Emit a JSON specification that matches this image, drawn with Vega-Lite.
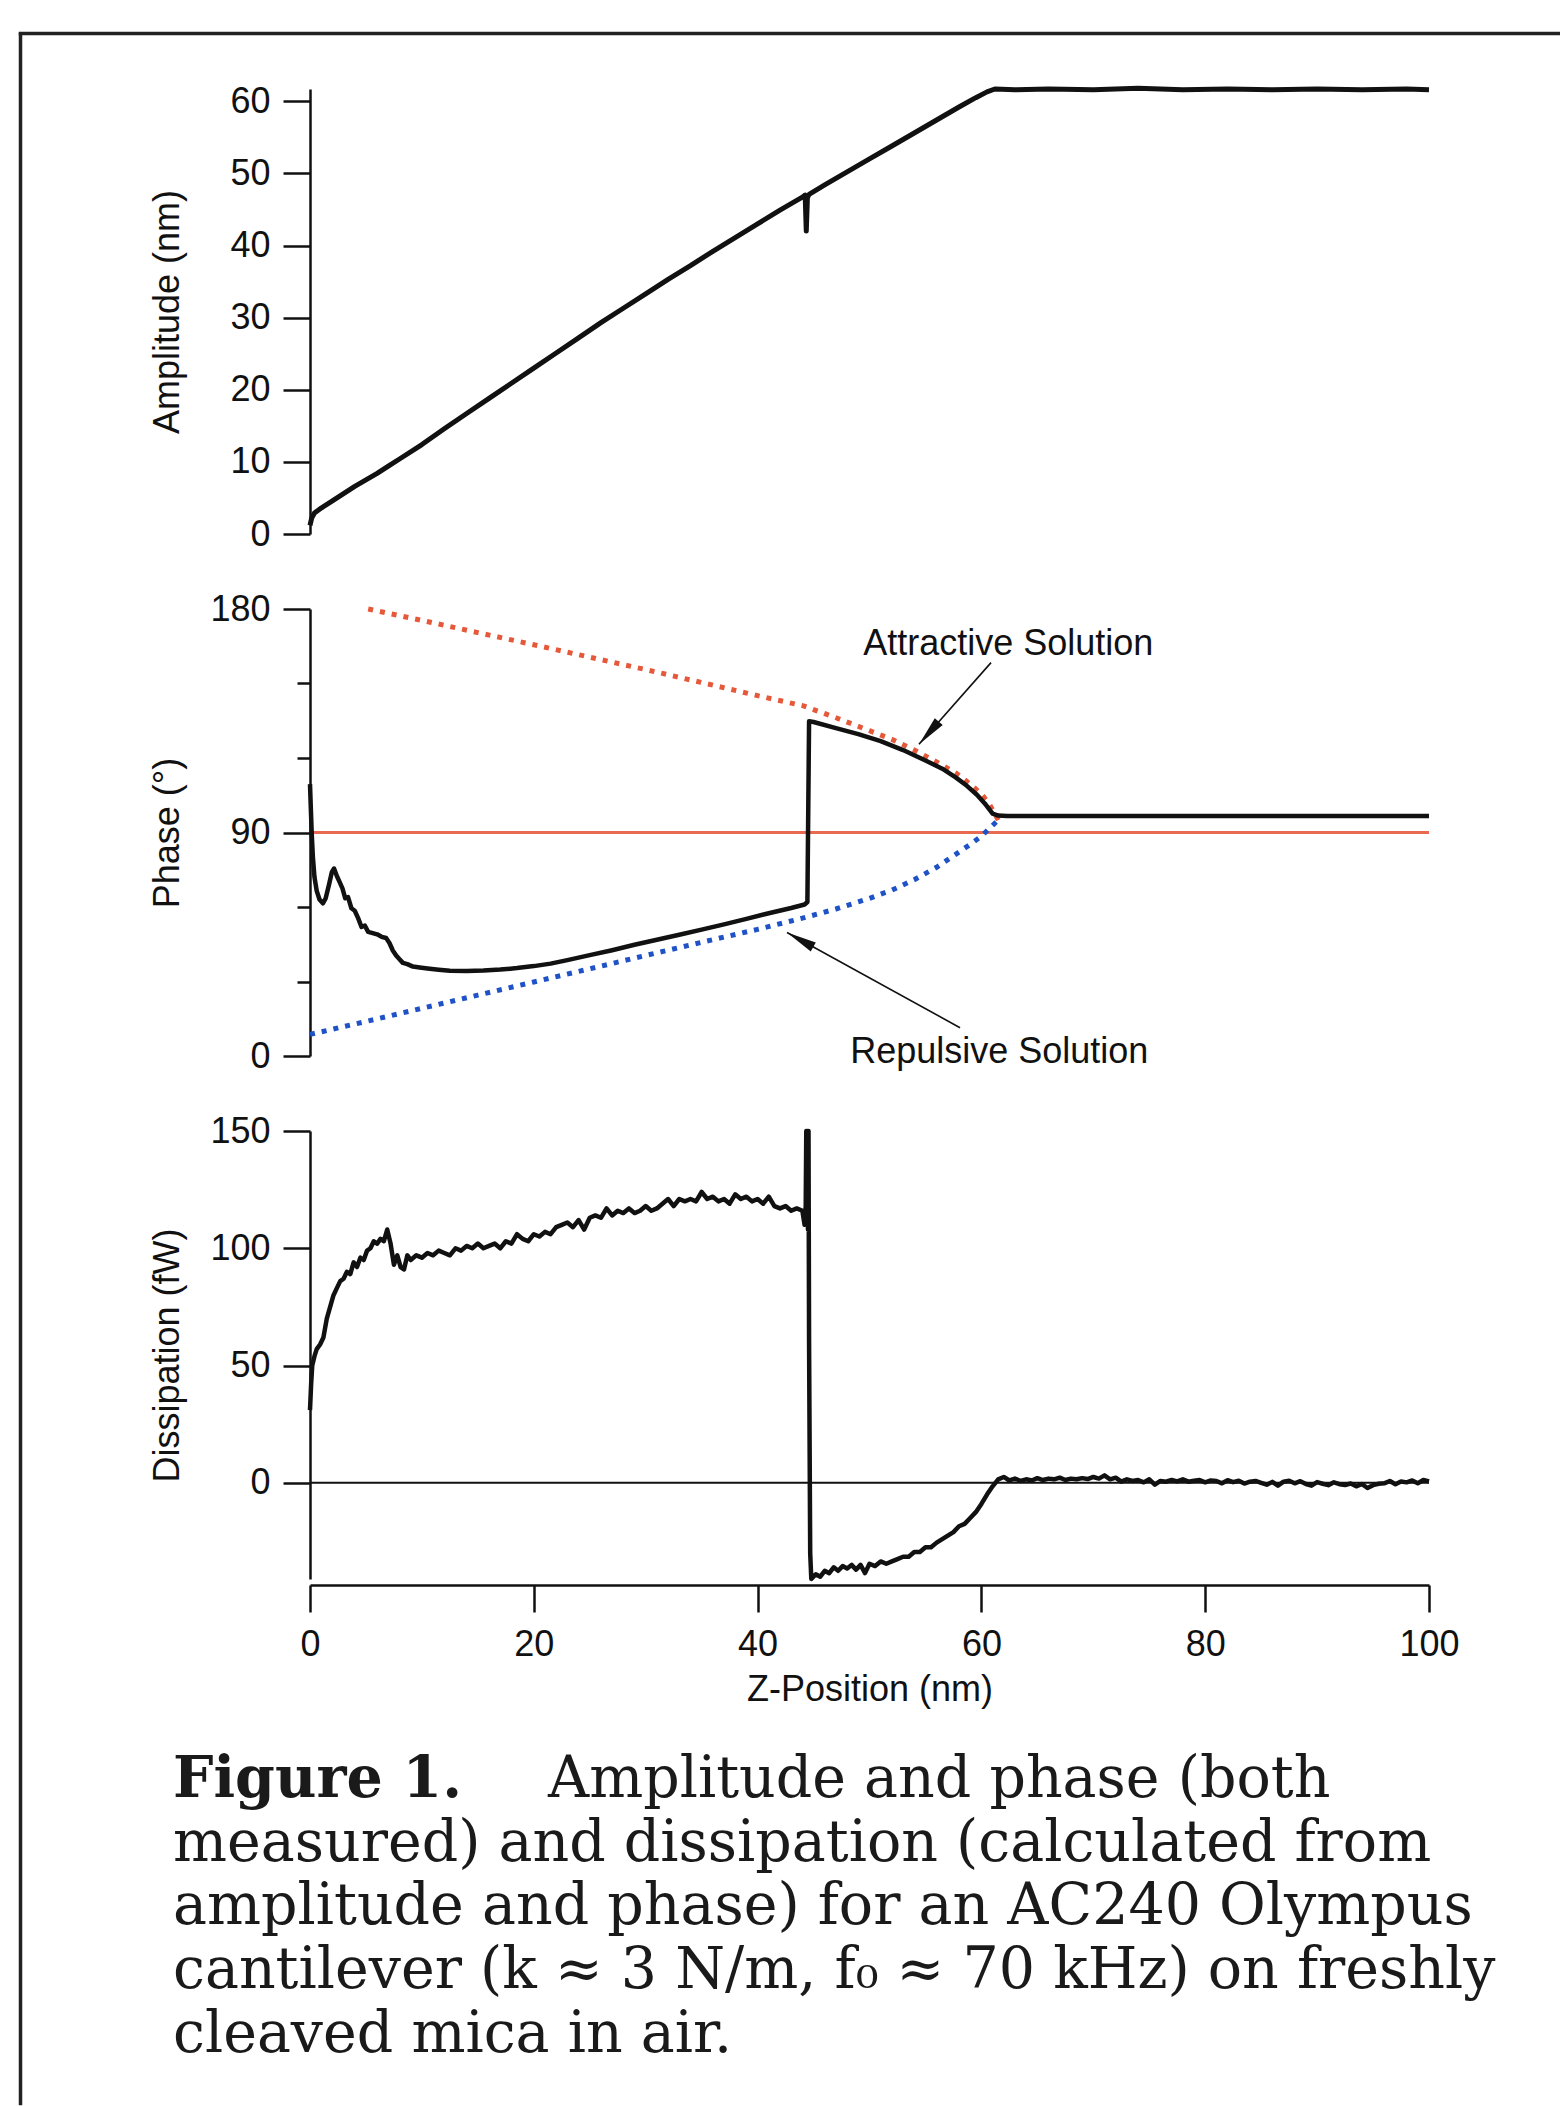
{
"$schema": "https://vega.github.io/schema/vega-lite/v6.json",
"background": "white",
"padding": {"left": 16, "top": 29, "right": 0, "bottom": 0},
"config": {
  "view": {"stroke": null},
  "font": "Liberation Sans",
  "axis": {"domainColor": "#111", "tickColor": "#111", "labelColor": "#111", "titleColor": "#111", "domainWidth": 2.5, "tickWidth": 2.5, "tickSize": 27, "labelFontSize": 36, "titleFontSize": 36, "titleFontWeight": "normal", "labelPadding": 13, "labelFlush": false, "grid": false, "labelFont": "Liberation Sans", "titleFont": "Liberation Sans"}
},
"datasets": {
  "amp": [
    {"z":0,"A":1.2},{"z":0.15,"A":2.2},{"z":0.4,"A":2.9},{"z":1,"A":3.6},{"z":2,"A":4.6},{"z":3,"A":5.6},{"z":4,"A":6.6},{"z":5,"A":7.5},{"z":6,"A":8.4},{"z":7,"A":9.4},{"z":8,"A":10.4},{"z":10,"A":12.4},{"z":12,"A":14.6},{"z":14,"A":16.7},{"z":16,"A":18.8},{"z":18,"A":20.9},{"z":20,"A":23.0},{"z":22,"A":25.1},{"z":24,"A":27.2},{"z":26,"A":29.3},{"z":28,"A":31.3},{"z":30,"A":33.3},{"z":32,"A":35.3},{"z":34,"A":37.2},{"z":36,"A":39.2},{"z":38,"A":41.1},{"z":40,"A":43.0},{"z":42,"A":44.9},{"z":44,"A":46.7},{"z":44.25,"A":47.0},{"z":44.35,"A":42.0},{"z":44.45,"A":46.6},{"z":44.6,"A":47.1},{"z":46,"A":48.4},{"z":48,"A":50.2},{"z":50,"A":52.0},{"z":52,"A":53.8},{"z":54,"A":55.6},{"z":56,"A":57.4},{"z":58,"A":59.2},{"z":59.5,"A":60.5},{"z":60.5,"A":61.3},{"z":61.2,"A":61.7},{"z":63,"A":61.6},{"z":66,"A":61.7},{"z":70,"A":61.6},{"z":74,"A":61.8},{"z":78,"A":61.6},{"z":82,"A":61.7},{"z":86,"A":61.6},{"z":90,"A":61.7},{"z":94,"A":61.6},{"z":98,"A":61.7},{"z":100,"A":61.6}
  ],
  "phase": [
    {"z":0,"P":109.5},{"z":0.08,"P":99},{"z":0.16,"P":89},{"z":0.26,"P":80},{"z":0.4,"P":72},{"z":0.6,"P":66.5},{"z":0.85,"P":63},{"z":1.15,"P":61.5},{"z":1.4,"P":63.5},{"z":1.7,"P":69},{"z":1.95,"P":74},{"z":2.15,"P":75.5},{"z":2.4,"P":72.5},{"z":2.65,"P":70},{"z":2.9,"P":67.5},{"z":3.15,"P":63.5},{"z":3.4,"P":64},{"z":3.7,"P":59.5},{"z":4.0,"P":58.5},{"z":4.3,"P":55.5},{"z":4.6,"P":52},{"z":4.9,"P":52.5},{"z":5.2,"P":50},{"z":5.6,"P":49.5},{"z":6.0,"P":49},{"z":6.4,"P":48},{"z":6.8,"P":47.5},{"z":7.1,"P":45.5},{"z":7.4,"P":42.5},{"z":7.7,"P":40.5},{"z":8.0,"P":39},{"z":8.3,"P":37.5},{"z":8.7,"P":37},{"z":9.2,"P":36},{"z":9.8,"P":35.6},{"z":10.5,"P":35.2},{"z":11.5,"P":34.7},{"z":12.5,"P":34.3},{"z":14,"P":34.2},{"z":15.5,"P":34.4},{"z":17,"P":34.8},{"z":18.5,"P":35.4},{"z":20,"P":36.2},{"z":21.5,"P":37.2},{"z":23,"P":38.6},{"z":25,"P":40.6},{"z":27,"P":42.6},{"z":29,"P":44.8},{"z":31,"P":46.8},{"z":33,"P":48.8},{"z":35,"P":50.9},{"z":37,"P":53},{"z":39,"P":55.2},{"z":41,"P":57.5},{"z":43,"P":59.6},{"z":44.2,"P":61},{"z":44.45,"P":62},{"z":44.6,"P":134.8},{"z":45,"P":134.5},{"z":47,"P":132},{"z":49,"P":129.6},{"z":51,"P":126.8},{"z":53,"P":123.2},{"z":55,"P":119},{"z":56.5,"P":115.7},{"z":57.7,"P":112.2},{"z":58.7,"P":108.8},{"z":59.6,"P":105.2},{"z":60.3,"P":101.7},{"z":61,"P":97.6},{"z":61.5,"P":96.8},{"z":62.3,"P":96.6},{"z":70,"P":96.6},{"z":80,"P":96.6},{"z":90,"P":96.6},{"z":100,"P":96.6}
  ],
  "attr": [
    {"z":5.2,"P":180},{"z":10,"P":175.4},{"z":15,"P":170.5},{"z":20,"P":165.6},{"z":25,"P":160.6},{"z":30,"P":155.6},{"z":35,"P":150.4},{"z":40,"P":145.1},{"z":44.1,"P":141},{"z":47,"P":136.2},{"z":50,"P":131},{"z":52,"P":127.5},{"z":54,"P":123.2},{"z":56,"P":118.4},{"z":57.7,"P":114},{"z":59,"P":109.5},{"z":60,"P":105.5},{"z":60.7,"P":101.5},{"z":61.2,"P":97.5},{"z":61.5,"P":95}
  ],
  "rep": [
    {"z":0,"P":8.7},{"z":5,"P":13.9},{"z":10,"P":19.2},{"z":15,"P":24.5},{"z":20,"P":29.8},{"z":25,"P":35.1},{"z":30,"P":40.5},{"z":35,"P":45.8},{"z":40,"P":51},{"z":44,"P":55.5},{"z":47,"P":59.2},{"z":50,"P":63.5},{"z":52,"P":66.8},{"z":54,"P":71},{"z":56,"P":76},{"z":57.7,"P":81.2},{"z":59,"P":85.2},{"z":60,"P":88.5},{"z":60.8,"P":92},{"z":61.5,"P":95}
  ],
  "ann": [
    {"z":62.4,"P":166,"label":"Attractive Solution"},
    {"z":61.6,"P":1.8,"label":"Repulsive Solution"}
  ],
  "arrows": [
    {"z0":60.86,"P0":158.4,"z1":54.42,"P1":125.5},
    {"z0":58.09,"P0":11.4,"z1":42.63,"P1":49.74}
  ],
  "headA": [{"z":55.31,"P":130.1}],
  "headR": [{"z":43.8,"P":46.8}],
  "diss": [
    {"z":0,"D":31},{"z":0.1,"D":42},{"z":0.2,"D":50},{"z":0.4,"D":54},{"z":0.6,"D":57},{"z":0.9,"D":59},{"z":1.2,"D":62},{"z":1.5,"D":70},{"z":1.8,"D":75},{"z":2.1,"D":80},{"z":2.4,"D":83},{"z":2.7,"D":86},{"z":3.0,"D":87},{"z":3.3,"D":90},{"z":3.6,"D":89},{"z":3.9,"D":94},{"z":4.2,"D":92},{"z":4.5,"D":96},{"z":4.8,"D":95},{"z":5.1,"D":99},{"z":5.4,"D":100},{"z":5.7,"D":103},{"z":6.0,"D":102},{"z":6.3,"D":104},{"z":6.6,"D":103},{"z":6.9,"D":108},{"z":7.2,"D":102},{"z":7.5,"D":93},{"z":7.8,"D":97},{"z":8.1,"D":92},{"z":8.4,"D":91},{"z":8.7,"D":97},{"z":9.0,"D":95},{"z":9.5,"D":97},{"z":10,"D":96},{"z":10.5,"D":98},{"z":11,"D":97},{"z":11.5,"D":99},{"z":12,"D":98},{"z":12.5,"D":97},{"z":13,"D":100},{"z":13.5,"D":99},{"z":14,"D":101},{"z":14.5,"D":100},{"z":15,"D":102},{"z":15.5,"D":100},{"z":16,"D":101},{"z":16.5,"D":102},{"z":17,"D":100},{"z":17.5,"D":103},{"z":18,"D":102},{"z":18.5,"D":106},{"z":19,"D":104},{"z":19.5,"D":103},{"z":20,"D":106},{"z":20.5,"D":105},{"z":21,"D":107},{"z":21.5,"D":106},{"z":22,"D":109},{"z":22.5,"D":110},{"z":23,"D":111},{"z":23.5,"D":109},{"z":24,"D":112},{"z":24.5,"D":108},{"z":25,"D":113},{"z":25.5,"D":114},{"z":26,"D":113},{"z":26.5,"D":117},{"z":27,"D":114},{"z":27.5,"D":116},{"z":28,"D":115},{"z":28.5,"D":117},{"z":29,"D":115},{"z":29.5,"D":116},{"z":30,"D":118},{"z":30.5,"D":116},{"z":31,"D":117},{"z":31.5,"D":119},{"z":32,"D":121},{"z":32.5,"D":118},{"z":33,"D":121},{"z":33.5,"D":120},{"z":34,"D":121},{"z":34.5,"D":120},{"z":35,"D":124},{"z":35.5,"D":121},{"z":36,"D":122},{"z":36.5,"D":120},{"z":37,"D":121},{"z":37.5,"D":119},{"z":38,"D":123},{"z":38.5,"D":121},{"z":39,"D":122},{"z":39.5,"D":120},{"z":40,"D":121},{"z":40.5,"D":119},{"z":41,"D":122},{"z":41.5,"D":118},{"z":42,"D":117},{"z":42.5,"D":118},{"z":43,"D":116},{"z":43.5,"D":117},{"z":44,"D":116},{"z":44.2,"D":110},{"z":44.3,"D":118},{"z":44.35,"D":150},{"z":44.4,"D":112},{"z":44.45,"D":150},{"z":44.5,"D":108},{"z":44.55,"D":150},{"z":44.6,"D":60},{"z":44.7,"D":-30},{"z":44.8,"D":-41},
    {"z":45.2,"D":-39},{"z":45.6,"D":-40},{"z":46,"D":-37.5},{"z":46.4,"D":-38.5},{"z":46.8,"D":-36},{"z":47.2,"D":-37.5},{"z":47.6,"D":-35.5},{"z":48,"D":-36.5},{"z":48.4,"D":-35},{"z":48.8,"D":-37},{"z":49.2,"D":-35},{"z":49.6,"D":-38.5},{"z":50,"D":-34.5},{"z":50.5,"D":-35.5},{"z":51,"D":-33.5},{"z":51.5,"D":-34.5},{"z":52,"D":-33.5},{"z":52.5,"D":-32.5},{"z":53,"D":-31.5},{"z":53.5,"D":-31.5},{"z":54,"D":-29.5},{"z":54.5,"D":-29.5},{"z":55,"D":-27.5},{"z":55.5,"D":-27.5},{"z":56,"D":-25.5},{"z":56.5,"D":-24},{"z":57,"D":-22.5},{"z":57.5,"D":-21},{"z":58,"D":-18.5},{"z":58.5,"D":-17.5},{"z":59,"D":-15},{"z":59.5,"D":-12.5},{"z":60,"D":-9},{"z":60.5,"D":-5},{"z":61,"D":-1.5},{"z":61.5,"D":1.5},{"z":62,"D":2.5},{"z":62.5,"D":1},{"z":63,"D":1.8},{"z":63.5,"D":0.8},{"z":64,"D":1.5},{"z":64.5,"D":1},{"z":65,"D":2},{"z":65.5,"D":1.2},{"z":66,"D":1.8},{"z":66.5,"D":1.5},{"z":67,"D":2.2},{"z":67.5,"D":1.2},{"z":68,"D":1.8},{"z":68.5,"D":1.5},{"z":69,"D":2},{"z":69.5,"D":1.6},{"z":70,"D":2.5},{"z":70.5,"D":1.8},{"z":71,"D":3.2},{"z":71.5,"D":1.5},{"z":72,"D":2.2},{"z":72.5,"D":0.5},{"z":73,"D":1.5},{"z":73.5,"D":0.8},{"z":74,"D":1.2},{"z":74.5,"D":0.2},{"z":75,"D":1.5},{"z":75.5,"D":-0.8},{"z":76,"D":0.8},{"z":76.5,"D":0.5},{"z":77,"D":1.2},{"z":77.5,"D":0.6},{"z":78,"D":1.5},{"z":78.5,"D":0.5},{"z":79,"D":0.9},{"z":79.5,"D":1.2},{"z":80,"D":0.2},{"z":80.5,"D":1},{"z":81,"D":0.8},{"z":81.5,"D":-0.2},{"z":82,"D":1.1},{"z":82.5,"D":0.3},{"z":83,"D":0.9},{"z":83.5,"D":-0.3},{"z":84,"D":0.5},{"z":84.5,"D":0.8},{"z":85,"D":0},{"z":85.5,"D":-0.8},{"z":86,"D":0.4},{"z":86.5,"D":-1.2},{"z":87,"D":0.5},{"z":87.5,"D":0.9},{"z":88,"D":-0.2},{"z":88.5,"D":0.7},{"z":89,"D":-0.5},{"z":89.5,"D":-1.2},{"z":90,"D":0.3},{"z":90.5,"D":-0.4},{"z":91,"D":-1},{"z":91.5,"D":0.2},{"z":92,"D":-0.6},{"z":92.5,"D":-0.9},{"z":93,"D":-0.3},{"z":93.5,"D":-1.5},{"z":94,"D":-0.5},{"z":94.5,"D":-2.2},{"z":95,"D":-1},{"z":95.5,"D":-0.4},{"z":96,"D":-0.2},{"z":96.5,"D":0.8},{"z":97,"D":-0.6},{"z":97.5,"D":0.6},{"z":98,"D":0.2},{"z":98.5,"D":1},{"z":99,"D":-0.2},{"z":99.5,"D":1.2},{"z":100,"D":0.6}
  ],
  "capBold": [{"line":1,"text":"Figure 1."}],
  "capFirst": [{"line":1,"text":"Amplitude and phase (both"}],
  "capRest": [
    {"line":2,"text":"measured) and dissipation (calculated from"},
    {"line":3,"text":"amplitude and phase) for an AC240 Olympus"},
    {"line":4,"text":"cantilever (k ≈ 3 N/m, f₀ ≈ 70 kHz) on freshly"},
    {"line":5,"text":"cleaved mica in air."}
  ]
},
"bounds": "flush",
"spacing": 0,
"vconcat": [
  {"width": 1540, "height": 1, "data": {"values": [{}]}, "mark": {"type": "point", "opacity": 0}, "encoding": {}, "view": {"stroke": "#222", "strokeWidth": 2.5}},
  {"bounds": "flush", "spacing": 289, "hconcat": [
    {"width": 1, "height": 2070, "data": {"values": [{}]}, "mark": {"type": "point", "opacity": 0}, "encoding": {}, "view": {"stroke": "#222", "strokeWidth": 2.5}},
    {"bounds": "flush", "spacing": 54, "vconcat": [
      {"width": 1, "height": 1, "data": {"values": [{}]}, "mark": {"type": "point", "opacity": 0}, "encoding": {}},
      {"bounds": "flush", "spacing": 75, "resolve": {"scale": {"x": "independent", "y": "independent"}}, "vconcat": [
        {"width": 1119, "height": 445, "data": {"name": "amp"},
         "mark": {"type": "line", "color": "#111", "strokeWidth": 5, "strokeJoin": "round"},
         "encoding": {
           "x": {"field": "z", "type": "quantitative", "scale": {"domain": [0, 100], "nice": false, "zero": false}, "axis": null},
           "y": {"field": "A", "type": "quantitative", "scale": {"domain": [0, 61.7], "nice": false}, "axis": {"values": [0, 10, 20, 30, 40, 50, 60], "title": "Amplitude (nm)", "titleX": -143, "titleY": 222.5, "titleAngle": 270, "titleBaseline": "middle", "titleAlign": "center"}}
         }},
        {"width": 1119, "height": 447, "resolve": {"axis": {"y": "independent"}}, "layer": [
          {"data": {"values": [{}]}, "mark": {"type": "rule", "color": "#e96a50", "strokeWidth": 3},
           "encoding": {"y": {"datum": 90, "type": "quantitative", "scale": {"domain": [0, 180], "nice": false}, "axis": null}}},
          {"data": {"name": "attr"}, "mark": {"type": "line", "color": "#e6583a", "strokeWidth": 5, "strokeDash": [5, 7], "strokeCap": "butt"},
           "encoding": {
             "x": {"field": "z", "type": "quantitative", "scale": {"domain": [0, 100], "nice": false, "zero": false}, "axis": null},
             "y": {"field": "P", "type": "quantitative", "scale": {"domain": [0, 180], "nice": false}, "axis": {"orient": "left", "values": [30, 60, 120, 150], "labels": false, "domain": false, "tickSize": 13, "title": null}}
           }},
          {"data": {"name": "rep"}, "mark": {"type": "line", "color": "#1f52c6", "strokeWidth": 5, "strokeDash": [5, 7], "strokeCap": "butt"},
           "encoding": {
             "x": {"field": "z", "type": "quantitative", "scale": {"domain": [0, 100], "nice": false, "zero": false}, "axis": null},
             "y": {"field": "P", "type": "quantitative", "scale": {"domain": [0, 180], "nice": false}, "axis": null}
           }},
          {"data": {"name": "phase"}, "mark": {"type": "line", "color": "#111", "strokeWidth": 4.5, "strokeJoin": "round"},
           "encoding": {
             "x": {"field": "z", "type": "quantitative", "scale": {"domain": [0, 100], "nice": false, "zero": false}, "axis": null},
             "y": {"field": "P", "type": "quantitative", "scale": {"domain": [0, 180], "nice": false}, "axis": {"orient": "left", "values": [0, 90, 180], "title": "Phase (°)", "titleX": -143, "titleY": 223.5, "titleAngle": 270, "titleBaseline": "middle", "titleAlign": "center"}}
           }},
          {"data": {"name": "ann"}, "mark": {"type": "text", "font": "Liberation Sans", "fontSize": 36, "color": "#111", "align": "center", "baseline": "middle"},
           "encoding": {
             "x": {"field": "z", "type": "quantitative", "scale": {"domain": [0, 100], "nice": false, "zero": false}, "axis": null},
             "y": {"field": "P", "type": "quantitative", "scale": {"domain": [0, 180], "nice": false}, "axis": null},
             "text": {"field": "label"}
           }},
          {"data": {"name": "arrows"}, "mark": {"type": "rule", "color": "#111", "strokeWidth": 1.6},
           "encoding": {
             "x": {"field": "z0", "type": "quantitative", "scale": {"domain": [0, 100], "nice": false, "zero": false}, "axis": null},
             "y": {"field": "P0", "type": "quantitative", "scale": {"domain": [0, 180], "nice": false}, "axis": null},
             "x2": {"field": "z1"},
             "y2": {"field": "P1"}
           }},
          {"data": {"name": "headA"}, "mark": {"type": "point", "shape": "M0,-1L0.35,1L-0.35,1Z", "size": 900, "angle": 221, "filled": true, "color": "#111", "opacity": 1},
           "encoding": {
             "x": {"field": "z", "type": "quantitative", "scale": {"domain": [0, 100], "nice": false, "zero": false}, "axis": null},
             "y": {"field": "P", "type": "quantitative", "scale": {"domain": [0, 180], "nice": false}, "axis": null}
           }},
          {"data": {"name": "headR"}, "mark": {"type": "point", "shape": "M0,-1L0.35,1L-0.35,1Z", "size": 900, "angle": 298.8, "filled": true, "color": "#111", "opacity": 1},
           "encoding": {
             "x": {"field": "z", "type": "quantitative", "scale": {"domain": [0, 100], "nice": false, "zero": false}, "axis": null},
             "y": {"field": "P", "type": "quantitative", "scale": {"domain": [0, 180], "nice": false}, "axis": null}
           }}
        ]},
        {"width": 1119, "height": 448, "resolve": {"axis": {"y": "independent"}}, "layer": [
          {"data": {"name": "diss"}, "mark": {"type": "line", "color": "#111", "strokeWidth": 4.5, "strokeJoin": "round"},
           "encoding": {
             "x": {"field": "z", "type": "quantitative", "scale": {"domain": [0, 100], "nice": false, "zero": false}, "axis": {"values": [0, 20, 40, 60, 80, 100], "offset": 6, "title": "Z-Position (nm)", "labelPadding": 15, "titlePadding": 10}},
             "y": {"field": "D", "type": "quantitative", "scale": {"domain": [-41, 150], "nice": false, "zero": false}, "axis": {"orient": "left", "values": [0, 50, 100, 150], "title": "Dissipation (fW)", "titleX": -143, "titleY": 224, "titleAngle": 270, "titleBaseline": "middle", "titleAlign": "center"}}
           }},
          {"data": {"values": [{}]}, "mark": {"type": "rule", "color": "#111", "strokeWidth": 2},
           "encoding": {"y": {"datum": 0, "type": "quantitative", "scale": {"domain": [-41, 150], "nice": false, "zero": false}, "axis": null}}}
        ]},
        {"width": 1119, "height": 398, "layer": [
          {"data": {"name": "capBold"}, "mark": {"type": "text", "font": "DejaVu Serif", "fontSize": 57, "fontWeight": "bold", "align": "left", "baseline": "alphabetic", "dx": -137, "color": "#1a1a1a"},
           "encoding": {
             "x": {"datum": 0, "type": "quantitative", "scale": {"domain": [0, 1]}, "axis": null},
             "y": {"field": "line", "type": "quantitative", "scale": {"domain": [5, -1.2431], "nice": false, "zero": false}, "axis": null},
             "text": {"field": "text"}
           }},
          {"data": {"name": "capFirst"}, "mark": {"type": "text", "font": "DejaVu Serif", "fontSize": 57, "align": "left", "baseline": "alphabetic", "dx": 238, "color": "#1a1a1a"},
           "encoding": {
             "x": {"datum": 0, "type": "quantitative", "scale": {"domain": [0, 1]}, "axis": null},
             "y": {"field": "line", "type": "quantitative", "scale": {"domain": [5, -1.2431], "nice": false, "zero": false}, "axis": null},
             "text": {"field": "text"}
           }},
          {"data": {"name": "capRest"}, "mark": {"type": "text", "font": "DejaVu Serif", "fontSize": 57, "align": "left", "baseline": "alphabetic", "dx": -137, "color": "#1a1a1a"},
           "encoding": {
             "x": {"datum": 0, "type": "quantitative", "scale": {"domain": [0, 1]}, "axis": null},
             "y": {"field": "line", "type": "quantitative", "scale": {"domain": [5, -1.2431], "nice": false, "zero": false}, "axis": null},
             "text": {"field": "text"}
           }}
        ]}
      ]}
    ]}
  ]}
]
}
